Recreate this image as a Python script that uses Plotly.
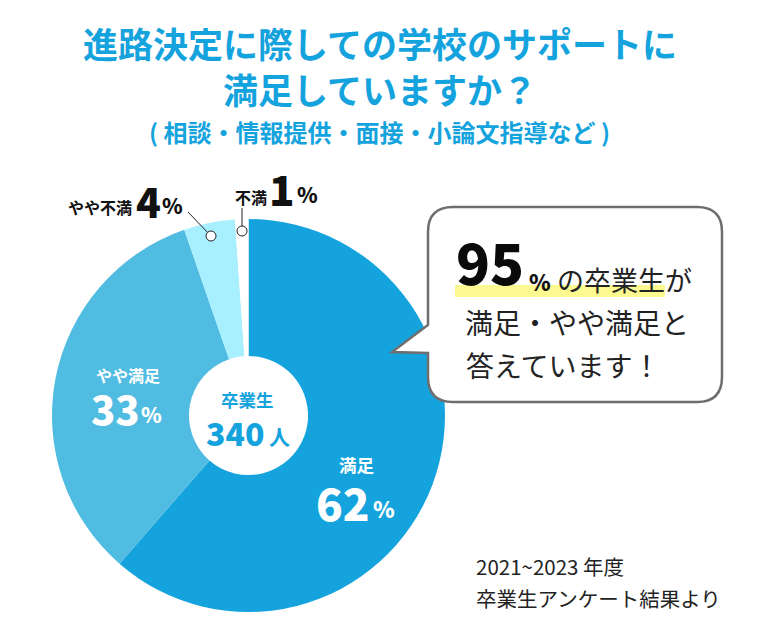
import plotly.graph_objects as go

labels = ['満足', 'やや満足', 'やや不満', '不満']
# slice sizes as drawn in the picture, the printed percentages are rounded
values = [61.4, 33.3, 4.2, 1.1]
percents = ['62', '33', '4', '1']
colors = ['#15A3DE', '#51BCE1', '#A8F0FF', '#FFFFFF']

title_lines = ['進路決定に際しての学校のサポートに', '満足していますか？']
subtitle = '( 相談・情報提供・面接・小論文指導など )'
note_lines = ['2021~2023 年度', '卒業生アンケート結果より']
bubble_lines = ['の卒業生が', '満足・やや満足と', '答えています！']

# page has an 8px body margin, so reference pixels are shifted by it
MARGIN = 8
W, H = 745, 624
BLUE = '#15A3DE'
JP = 'Noto Sans CJK JP'


def px(x):
    return (x - MARGIN) / W


def py(y):
    return 1 - (y - MARGIN) / H


def label(x, y, text, size, color='white', weight=700, anchor='center'):
    fig.add_annotation(x=px(x), y=py(y), xref='paper', yref='paper', text=text, showarrow=False,
                       xanchor=anchor, yanchor='middle', borderpad=0,
                       font=dict(size=size, color=color, family=JP, weight=weight))


def p(x, y):
    return '{:.5f} {:.5f}'.format(px(x), py(y))


fig = go.Figure()
fig.add_trace(go.Pie(labels=labels, values=values, sort=False, direction='clockwise', rotation=0,
                     hole=0.303, textinfo='none', showlegend=False,
                     marker=dict(colors=colors, line=dict(color='white', width=0)),
                     domain=dict(x=[px(52), px(445)], y=[py(612), py(219)])))

# speech bubble
bubble = ['M', p(453, 207), 'L', p(697, 207), 'Q', p(722, 207), p(722, 232),
          'L', p(722, 377), 'Q', p(722, 402), p(697, 402),
          'L', p(453, 402), 'Q', p(428, 402), p(428, 377),
          'L', p(428, 353), 'L', p(392, 352), 'L', p(428, 325),
          'L', p(428, 232), 'Q', p(428, 207), p(453, 207), 'Z']
fig.add_shape(type='path', xref='paper', yref='paper', path=' '.join(bubble),
              line=dict(color='#6E6E6E', width=2.5), fillcolor='white')

# highlight under 95%
fig.add_shape(type='rect', xref='paper', yref='paper', x0=px(455), x1=px(665), y0=py(297), y1=py(285),
              fillcolor='#FBF98F', line_width=0)

# leader lines with small circles
for x0, y0, x1, y1 in [(188, 212, 211, 236), (242, 208, 242, 231)]:
    fig.add_shape(type='line', xref='paper', yref='paper', x0=px(x0), y0=py(y0), x1=px(x1), y1=py(y1),
                  line=dict(color='#222222', width=1))
for cx, cy in [(211, 236), (242, 231)]:
    fig.add_shape(type='circle', xref='paper', yref='paper', x0=px(cx - 5), x1=px(cx + 5),
                  y0=py(cy + 5), y1=py(cy - 5), fillcolor='white', line=dict(color='#222222', width=1))

label(380, 65, '<br>'.join(title_lines), 35, BLUE)
label(379, 132, subtitle, 24, BLUE)

label(357, 464, labels[0], 17.5)
label(343, 502, percents[0], 44, weight=900)
label(384, 508, '%', 22, weight=900)
label(128, 375, labels[1], 16)
label(115, 408, percents[1], 40, weight=900)
label(151, 414, '%', 21, weight=900)
label(248, 399, '卒業生', 17.5, BLUE)
label(235, 432, '340', 32, BLUE, weight=900)
label(279, 436, '人', 21, BLUE)

label(100, 207, labels[2], 16, '#111111')
label(148, 200, percents[2], 41, '#111111', weight=900)
label(172, 205, '%', 21, '#111111', weight=900)
label(251, 197, labels[3], 16, '#111111')
label(282, 187, percents[3], 42, '#111111', weight=900)
label(307, 194, '%', 21, '#111111', weight=900)

label(490, 260, '95', 56, '#0A0A0A', weight=900)
label(540, 281, '%', 22, '#111111', weight=900)
label(624, 279, bubble_lines[0], 27, '#222222', weight=400)
label(577, 322, bubble_lines[1], 28, '#222222', weight=400)
label(563, 365, bubble_lines[2], 28, '#222222', weight=400)

label(475, 566, note_lines[0], 20.5, '#222222', weight=400, anchor='left')
label(475, 598, note_lines[1], 20.5, '#222222', weight=400, anchor='left')

fig.update_layout(width=W, height=H, margin=dict(l=0, r=0, t=0, b=0), paper_bgcolor='white',
                  plot_bgcolor='white')
fig.write_html("out.html")
